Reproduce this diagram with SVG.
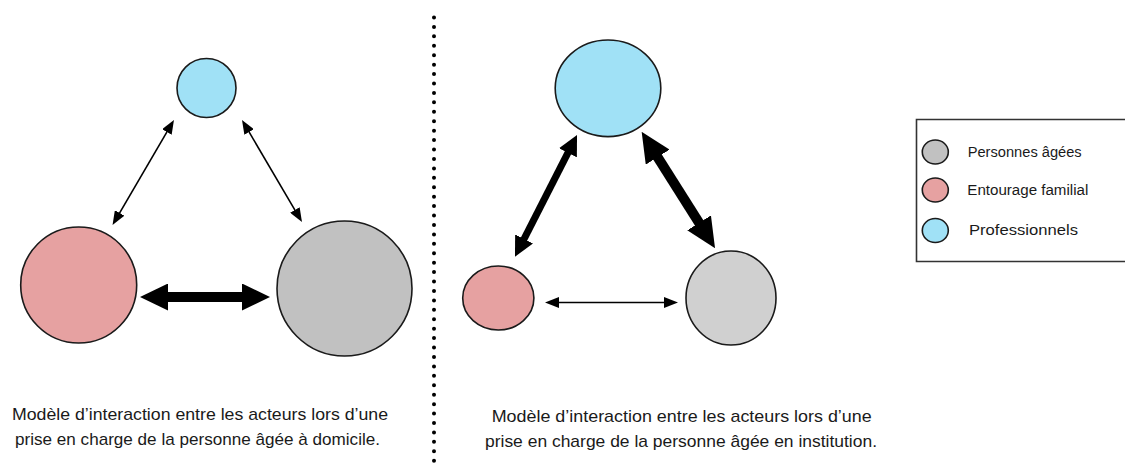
<svg xmlns="http://www.w3.org/2000/svg" width="1125" height="472" viewBox="0 0 1125 472">
<style>
.node{stroke:#1a1a1a;stroke-width:1.6}
.blue{fill:#a0e1f6}
.pink{fill:#e6a1a1}
.gray{fill:#c1c1c1}
.gray2{fill:#d0d0d0}
.conn{stroke:#000;fill:none}
.cap{font-family:"Liberation Sans",Arial,sans-serif;font-size:17px;fill:#1a1a1a}
.leg{font-family:"Liberation Sans",Arial,sans-serif;font-size:14px;fill:#1a1a1a}
</style>
<defs>
<marker id="mThin" markerUnits="userSpaceOnUse" markerWidth="14" markerHeight="11" refX="1" refY="5.5" orient="auto-start-reverse"><path d="M0,0 L14,5.5 L0,11 Z" fill="#000"/></marker>
<marker id="mMed" markerUnits="userSpaceOnUse" markerWidth="20" markerHeight="20" refX="1" refY="10" orient="auto-start-reverse"><path d="M0,0 L20,10 L0,20 Z" fill="#000"/></marker>
<marker id="mBig" markerUnits="userSpaceOnUse" markerWidth="28" markerHeight="27" refX="1" refY="13.5" orient="auto-start-reverse"><path d="M0,0 L28,13.5 L0,27 Z" fill="#000"/></marker>
<marker id="mBig2" markerUnits="userSpaceOnUse" markerWidth="30" markerHeight="28" refX="1" refY="14" orient="auto-start-reverse"><path d="M0,0 L30,14 L0,28 Z" fill="#000"/></marker>
</defs>
<rect width="1125" height="472" fill="#fff"/>

<line id="separator" x1="434" y1="17.5" x2="434" y2="470" stroke="#000" stroke-width="4" stroke-linecap="round" stroke-dasharray="0 9.43"/>

<g id="connectors">
<line class="conn" x1="167.4" y1="131.2" x2="119.1" y2="213.8" stroke-width="1.6" marker-start="url(#mThin)" marker-end="url(#mThin)"/>
<line class="conn" x1="248.6" y1="131.2" x2="295.4" y2="210.8" stroke-width="1.6" marker-start="url(#mThin)" marker-end="url(#mThin)"/>
<line class="conn" x1="167" y1="297" x2="243" y2="297" stroke-width="10" marker-start="url(#mBig)" marker-end="url(#mBig)"/>
<line class="conn" x1="568.4" y1="151.9" x2="523.6" y2="239.8" stroke-width="7" marker-start="url(#mMed)" marker-end="url(#mMed)"/>
<line class="conn" x1="657.1" y1="156.3" x2="699.6" y2="223.7" stroke-width="10" marker-start="url(#mBig2)" marker-end="url(#mBig2)"/>
<line class="conn" x1="558" y1="302.5" x2="665" y2="302.5" stroke-width="1.6" marker-start="url(#mThin)" marker-end="url(#mThin)"/>
</g>

<g id="home-professionnels"><circle class="node blue" cx="206.5" cy="88" r="29.5"/></g>
<g id="home-entourage"><circle class="node pink" cx="78.7" cy="285" r="58"/></g>
<g id="home-personnes"><circle class="node gray" cx="344.5" cy="288.5" r="67.5"/></g>

<g id="inst-professionnels"><ellipse class="node blue" cx="608" cy="88.3" rx="52.8" ry="48.3"/></g>
<g id="inst-entourage"><ellipse class="node pink" cx="498.3" cy="298" rx="35.6" ry="32"/></g>
<g id="inst-personnes"><ellipse class="node gray2" cx="731" cy="298" rx="45" ry="47"/></g>

<g id="caption-home">
<text class="cap" x="200" y="420" text-anchor="middle" textLength="376" lengthAdjust="spacingAndGlyphs">Modèle d’interaction entre les acteurs lors d’une</text>
<text class="cap" x="197.5" y="445" text-anchor="middle" textLength="365" lengthAdjust="spacingAndGlyphs">prise en charge de la personne âgée à domicile.</text>
</g>
<g id="caption-institution">
<text class="cap" x="681.7" y="421.5" text-anchor="middle" textLength="380" lengthAdjust="spacingAndGlyphs">Modèle d’interaction entre les acteurs lors d’une</text>
<text class="cap" x="681" y="446.5" text-anchor="middle" textLength="392" lengthAdjust="spacingAndGlyphs">prise en charge de la personne âgée en institution.</text>
</g>

<g id="legend">
<path d="M1130,119.5 H916.5 V261.5 H1130" fill="#fff" stroke="#333" stroke-width="1.6"/>
<ellipse class="node gray" cx="935.3" cy="152" rx="13" ry="12"/>
<ellipse class="node pink" cx="935.3" cy="190" rx="13" ry="12"/>
<ellipse class="node blue" cx="935.3" cy="230.5" rx="13" ry="12"/>
<text class="leg" x="967.7" y="156.5" textLength="114" lengthAdjust="spacingAndGlyphs">Personnes âgées</text>
<text class="leg" x="967.3" y="195" textLength="121" lengthAdjust="spacingAndGlyphs">Entourage familial</text>
<text class="leg" x="969" y="235" textLength="109" lengthAdjust="spacingAndGlyphs">Professionnels</text>
</g>
</svg>
